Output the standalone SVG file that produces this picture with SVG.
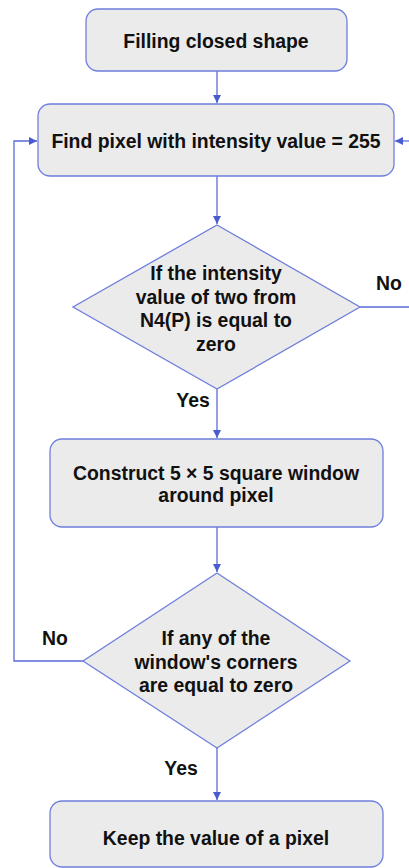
<svg xmlns="http://www.w3.org/2000/svg" width="409" height="868" viewBox="0 0 409 868">
<style>
.n{fill:#ebebeb;stroke:#6f7fdc;stroke-width:1.3}
.t{font-family:"Liberation Sans",Arial,sans-serif;font-weight:bold;font-size:19.4px;fill:#111;text-anchor:middle}
.c{fill:none;stroke:#5a6bd6;stroke-width:1.3}
</style>
<defs>
<marker id="a" markerWidth="10" markerHeight="10" refX="9" refY="5" orient="auto" markerUnits="userSpaceOnUse">
<path d="M1,1 L9,5 L1,9 Z" fill="#4a5bd0"/>
</marker>
</defs>
<rect width="409" height="868" fill="#fff"/>
<g id="connectors">
<path class="c" d="M217,71 V103" marker-end="url(#a)"/>
<path class="c" d="M217,176 V224" marker-end="url(#a)"/>
<path class="c" d="M217,389 V438" marker-end="url(#a)"/>
<path class="c" d="M217,527 V572" marker-end="url(#a)"/>
<path class="c" d="M217,748 V800" marker-end="url(#a)"/>
<path class="c" d="M83,661 H14 V141 H37" marker-end="url(#a)"/>
<path class="c" d="M360,307 H412"/>
<path class="c" d="M412,141 H395" marker-end="url(#a)"/>
<text class="t" x="389" y="290">No</text>
<text class="t" x="193" y="407">Yes</text>
<text class="t" x="55" y="645">No</text>
<text class="t" x="181" y="775">Yes</text>
</g>
<g id="n1"><rect class="n" x="86" y="9" width="261" height="62" rx="12"/><text class="t" x="216" y="48">Filling closed shape</text></g>
<g id="n2"><rect class="n" x="38" y="104" width="356" height="72" rx="12"/><text class="t" x="216" y="148">Find pixel with intensity value = 255</text></g>
<g id="n3"><polygon class="n" points="217,225 360,307 217,389 73,307"/>
<text class="t" x="216" y="280">If the intensity</text>
<text class="t" x="216" y="304">value of two from</text>
<text class="t" x="216" y="327">N4(P) is equal to</text>
<text class="t" x="216" y="351">zero</text></g>
<g id="n4"><rect class="n" x="50" y="439" width="333" height="88" rx="12"/>
<text class="t" x="216" y="480">Construct 5 × 5 square window</text>
<text class="t" x="216" y="502">around pixel</text></g>
<g id="n5"><polygon class="n" points="217,573 350,661 217,748 83,661"/>
<text class="t" x="216" y="645">If any of the</text>
<text class="t" x="216" y="669">window's corners</text>
<text class="t" x="216" y="692">are equal to zero</text></g>
<g id="n6"><rect class="n" x="50" y="801" width="333" height="66" rx="12"/>
<text class="t" x="216" y="845">Keep the value of a pixel</text></g>
</svg>
